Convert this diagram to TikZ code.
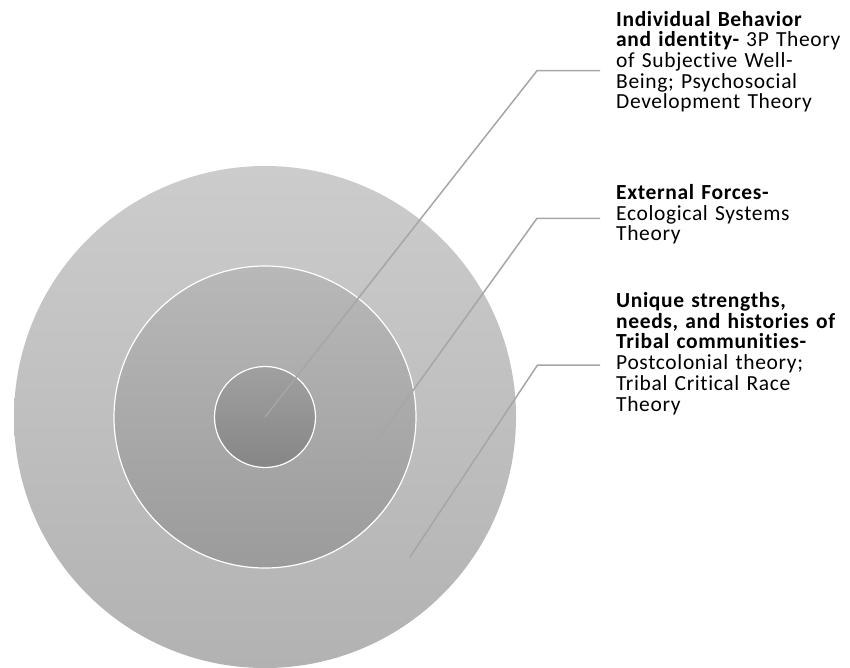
\documentclass[tikz,border=0pt]{standalone}
\usepackage{fontspec}
\setmainfont{Carlito}[Ligatures={NoCommon}, LetterSpace=3]
\usetikzlibrary{positioning}
\definecolor{leadgray}{RGB}{166,166,166}
\begin{document}
\begin{tikzpicture}[x=1pt,y=-1pt]
\tikzstyle{every node}+=[inner sep=0pt]
\tikzstyle{ring}=[circle, draw=white, line width=1.2pt]
\tikzstyle{leader}=[draw=leadgray, line width=1.5pt]
\tikzstyle{theory}=[anchor=base west, text width=240pt, align=left, font=\fontsize{21.5}{20.7}\selectfont]
\useasboundingbox (0,0) rectangle (850,667);
\node[circle, minimum size=502pt, top color={rgb,255:red,204;green,204;blue,204}, bottom color={rgb,255:red,178;green,178;blue,178}] (outer) at (265,417) {};
\node[ring, minimum size=302pt, top color={rgb,255:red,184;green,184;blue,184}, bottom color={rgb,255:red,155;green,155;blue,155}] (middle) at (265,417) {};
\node[ring, minimum size=101pt, top color={rgb,255:red,160;green,160;blue,160}, bottom color={rgb,255:red,134;green,134;blue,134}] (inner) at (265,417) {};
\coordinate (ptA) at (265,417);
\coordinate (ptB) at (350,478);
\coordinate (ptC) at (410,557);
\coordinate (bendA) at (537,70.7);
\coordinate (bendB) at (537,218.3);
\coordinate (bendC) at (537.5,365);
\coordinate (endA) at (600,70.7);
\coordinate (endB) at (600,218.3);
\coordinate (endC) at (600,365);
\draw[leader] (ptA) -- (bendA) -- (endA);
\draw[leader] (ptB) -- (bendB) -- (endB);
\draw[leader] (ptC) -- (bendC) -- (endC);
\node[theory] (individual) at (616,26) {\textbf{Individual Behavior}\\\textbf{and identity-} 3P Theory\\of Subjective Well-\\Being; Psychosocial\\Development Theory};
\node[theory] (external) at (616,199.4) {\textbf{External Forces-}\\Ecological Systems\\Theory};
\node[theory] (tribal) at (616,307.5) {\textbf{Unique strengths,}\\\textbf{needs, and histories of}\\\textbf{Tribal communities-}\\Postcolonial theory;\\Tribal Critical Race\\Theory};
\end{tikzpicture}
\end{document}
